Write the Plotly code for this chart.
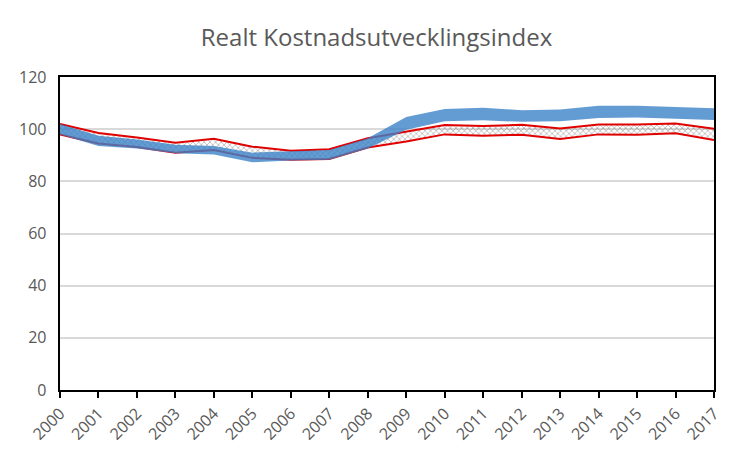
import plotly.graph_objects as go

years = list(range(2000, 2018))
tick_labels = [str(y) for y in years]

blue_upper = [102, 97.5, 96, 94, 93.5, 91, 91.5, 92, 96.5, 104.7, 107.7, 108.2, 107.3, 107.5, 109, 109, 108.5, 108]
blue_lower = [98, 93.5, 92.6, 90.8, 90.3, 87.3, 88, 88.3, 92.6, 99.8, 103, 103.4, 102.8, 103, 104.3, 104.5, 104, 103.5]
red_upper = [102, 98.5, 96.8, 94.8, 96.3, 93.3, 91.7, 92.3, 96.5, 99, 101.6, 101.2, 101.7, 100.3, 101.8, 101.8, 102.2, 100.2]
red_lower = [98, 94.5, 93.2, 91, 92, 89, 88.3, 88.6, 93, 95.3, 98, 97.5, 97.9, 96.2, 98, 97.9, 98.4, 95.8]

fig = go.Figure()

# red hatched band
fig.add_trace(go.Scatter(x=years, y=red_lower, mode="lines",
                         line=dict(color="#e00000", width=2), showlegend=False, hoverinfo="skip"))
fig.add_trace(go.Scatter(x=years, y=red_upper, mode="lines", fill="tonexty",
                         fillcolor="rgba(0,0,0,0)",
                         fillpattern=dict(shape="x", fgcolor="#2a2a2a", bgcolor="rgba(255,255,255,0)",
                                          size=4, solidity=0.25),
                         line=dict(color="#e00000", width=2), showlegend=False, hoverinfo="skip"))

# blue band (semi-transparent, on top)
fig.add_trace(go.Scatter(x=years, y=blue_lower, mode="lines",
                         line=dict(color="rgba(0,0,0,0)", width=0), showlegend=False, hoverinfo="skip"))
fig.add_trace(go.Scatter(x=years, y=blue_upper, mode="lines", fill="tonexty",
                         fillcolor="rgba(60,130,200,0.8)",
                         line=dict(color="rgba(0,0,0,0)", width=0), showlegend=False, hoverinfo="skip"))

fig.update_layout(
    width=753, height=459,
    margin=dict(l=60, r=39, t=77, b=69),
    paper_bgcolor="white", plot_bgcolor="white",
    title=dict(text="Realt Kostnadsutvecklingsindex", x=0.5, xanchor="center",
               y=0.917, yanchor="middle",
               font=dict(family="Open Sans", size=24, color="#595959")),
    font=dict(family="Open Sans", color="#595959"),
)
fig.update_xaxes(range=[2000, 2017], tickmode="array", tickvals=years, ticktext=tick_labels,
                 tickangle=-45, ticks="outside", ticklen=6, tickcolor="black", tickwidth=2,
                 showline=True, linecolor="black", linewidth=2, mirror=True,
                 showgrid=False, zeroline=False, tickfont=dict(size=16, color="#595959"))
fig.update_yaxes(range=[0, 120], dtick=20, ticks="",
                 showline=True, linecolor="black", linewidth=2, mirror=True,
                 showgrid=True, gridcolor="#d9d9d9", gridwidth=1.5, zeroline=False,
                 tickfont=dict(size=16, color="#595959"), ticksuffix="  ")

fig.write_html("out.html")
